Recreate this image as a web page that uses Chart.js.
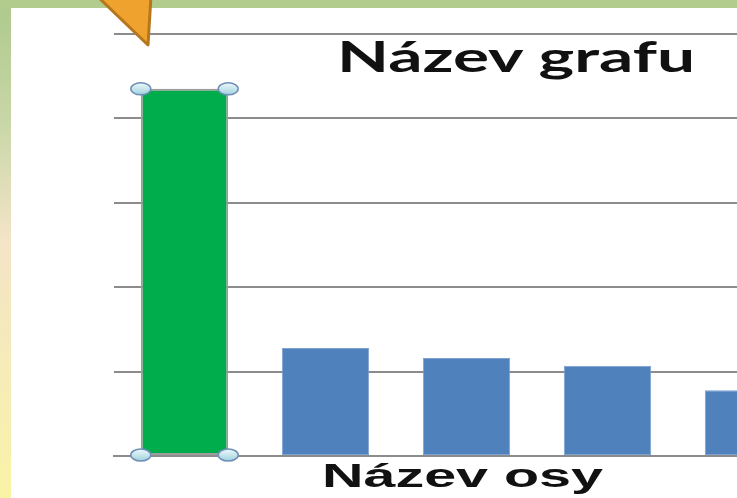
<!DOCTYPE html>
<html>
<head>
<meta charset="utf-8">
<script src="https://cdn.jsdelivr.net/npm/chart.js@4.4.1/dist/chart.umd.min.js"></script>
<style>
    html, body {
        margin: 0;
        padding: 0;
        width: 737px;
        height: 498px;
        overflow: hidden;
    }
    body {
        position: relative;
        background: linear-gradient(to bottom, #adc98b 0%, #c9d7a8 25%, #f3e4c6 48%, #f6ecb8 75%, #f9f3a6 100%);
    }
    #top-strip {
        position: absolute;
        left: 0; top: 0;
        width: 737px; height: 8px;
        background: #b2cc8e;
    }
    #panel {
        position: absolute;
        left: 11px; top: 8px;
        width: 726px; height: 490px;
        background: #ffffff;
    }
    #chart-box {
        position: absolute;
        left: 0; top: 0;
        width: 840px; height: 498px;
    }
    .stretch-title {
        position: absolute;
        white-space: nowrap;
        line-height: 1;
        font-weight: bold;
        color: #111;
        transform-origin: 0 0;
    }
    #chart-title {
        font-family: Lato, "Open Sans", sans-serif;
        font-size: 42px;
        top: 35px;
    }
    #axis-title {
        font-family: "Liberation Sans", Arial, sans-serif;
        font-size: 34px;
        top: 458px;
    }
    #arrow {
        position: absolute;
        left: 0; top: 0;
    }
</style>
</head>
<body>
<div id="top-strip"></div>
<div id="panel"></div>
<div id="chart-box"><canvas id="chart" width="840" height="498"></canvas></div>
<div id="chart-title" class="stretch-title">Název grafu</div>
<div id="axis-title" class="stretch-title">Název osy</div>
<svg id="arrow" width="200" height="60">
    <polygon points="97,-4 151,-4 148,45" fill="#f0a22f" stroke="#b5761c" stroke-width="3" stroke-linejoin="round"/>
</svg>

<script>
// Chart data
const categories = ["Kategorie 1", "Kategorie 2", "Kategorie 3", "Kategorie 4", "Kategorie 5"];
const seriesValues = [4.35, 1.28, 1.16, 1.07, 0.78];
const yTicks = [0, 1, 2, 3, 4, 5];

const barColors = ["#00ad4c", "#4f81bd", "#4f81bd", "#4f81bd", "#4f81bd"];
const barBorders = ["#9d9d9d", "#7da2d0", "#7da2d0", "#7da2d0", "#7da2d0"];
const barBorderWidths = [2, 1, 1, 1, 1];

// Selection handles on the highlighted bar
const selectionHandles = {
    id: "selectionHandles",
    afterDatasetsDraw(chart) {
        const bar = chart.getDatasetMeta(0).data[0];
        if (!bar) return;
        const props = bar.getProps(["x", "y", "base", "width"], true);
        const left = props.x - props.width / 2;
        const right = props.x + props.width / 2;
        const ctx = chart.ctx;
        const corners = [[left, props.y], [right, props.y], [left, props.base], [right, props.base]];
        ctx.save();
        corners.forEach(([cx, cy]) => {
            const grad = ctx.createLinearGradient(cx, cy - 6, cx, cy + 6);
            grad.addColorStop(0, "#eef9fb");
            grad.addColorStop(1, "#9fd2dc");
            ctx.beginPath();
            ctx.ellipse(cx, cy, 10, 6, 0, 0, Math.PI * 2);
            ctx.fillStyle = grad;
            ctx.fill();
            ctx.lineWidth = 1.5;
            ctx.strokeStyle = "#6f8fba";
            ctx.stroke();
        });
        ctx.restore();
    }
};

const ctx = document.getElementById("chart").getContext("2d");
new Chart(ctx, {
    type: "bar",
    data: {
        labels: categories,
        datasets: [{
            data: seriesValues,
            backgroundColor: barColors,
            borderColor: barBorders,
            borderWidth: barBorderWidths,
            borderSkipped: false,
            barPercentage: 0.62,
            categoryPercentage: 1.0
        }]
    },
    options: {
        responsive: false,
        animation: false,
        devicePixelRatio: 1,
        layout: {
            padding: { left: 114, right: 21, top: 34, bottom: 34 }
        },
        plugins: {
            legend: { display: false },
            title: { display: false },
            tooltip: { enabled: false }
        },
        scales: {
            x: {
                grid: { display: false },
                border: { display: true, color: "#8c8c8c", width: 2 },
                ticks: { display: false }
            },
            y: {
                min: yTicks[0],
                max: yTicks[yTicks.length - 1],
                afterBuildTicks: (axis) => {
                    axis.ticks = yTicks.map(v => ({ value: v }));
                },
                grid: { color: "#8c8c8c", lineWidth: 2, drawTicks: false },
                border: { display: false },
                ticks: { display: false }
            }
        }
    },
    plugins: [selectionHandles]
});

// Stretch titles horizontally to fit their target spans
function fitTitle(id, left, right) {
    const el = document.getElementById(id);
    const natural = el.getBoundingClientRect().width;
    el.style.left = left + "px";
    el.style.transform = "scaleX(" + ((right - left) / natural) + ")";
}
fitTitle("chart-title", 337, 695);
fitTitle("axis-title", 322, 603);
</script>
</body>
</html>
